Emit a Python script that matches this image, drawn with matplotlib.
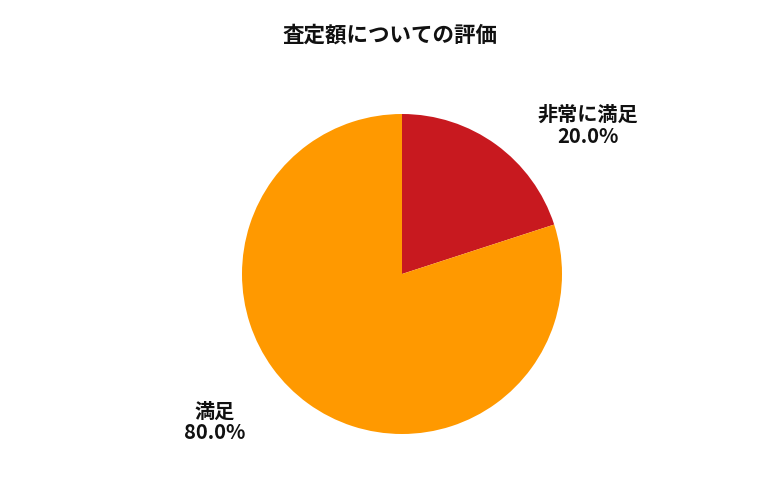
import matplotlib
matplotlib.use("Agg")
import matplotlib.pyplot as plt

plt.rcParams["font.family"] = ["Noto Sans CJK JP", "DejaVu Sans"]

categories = ["非常に満足", "満足"]
values = [20.0, 80.0]
colors = ["#C8191F", "#FF9900"]

fig = plt.figure(figsize=(7.8, 5), dpi=100)
ax = fig.add_axes([(402 - 160) / 780, (500 - 434) / 500, 320 / 780, 320 / 500])
ax.pie(values, colors=colors, startangle=90, counterclock=False, radius=1,
       wedgeprops=dict(linewidth=0))
ax.set_xlim(-1, 1)
ax.set_ylim(-1, 1)
ax.set_aspect("equal")

label_pos = [(1.16, 0.93), (-1.17, -0.925)]
for (x, y), c, v in zip(label_pos, categories, values):
    ax.text(x, y, f"{c}\n{v:.1f}%", ha="center", va="center", fontsize=14.5,
            fontweight="bold", linespacing=1.05, color="#111111")

fig.text(0.5, 1 - 35 / 500, "査定額についての評価", ha="center", va="center",
         fontsize=15.5, fontweight="bold", color="#111111")
fig.savefig("out.png", dpi=100)
